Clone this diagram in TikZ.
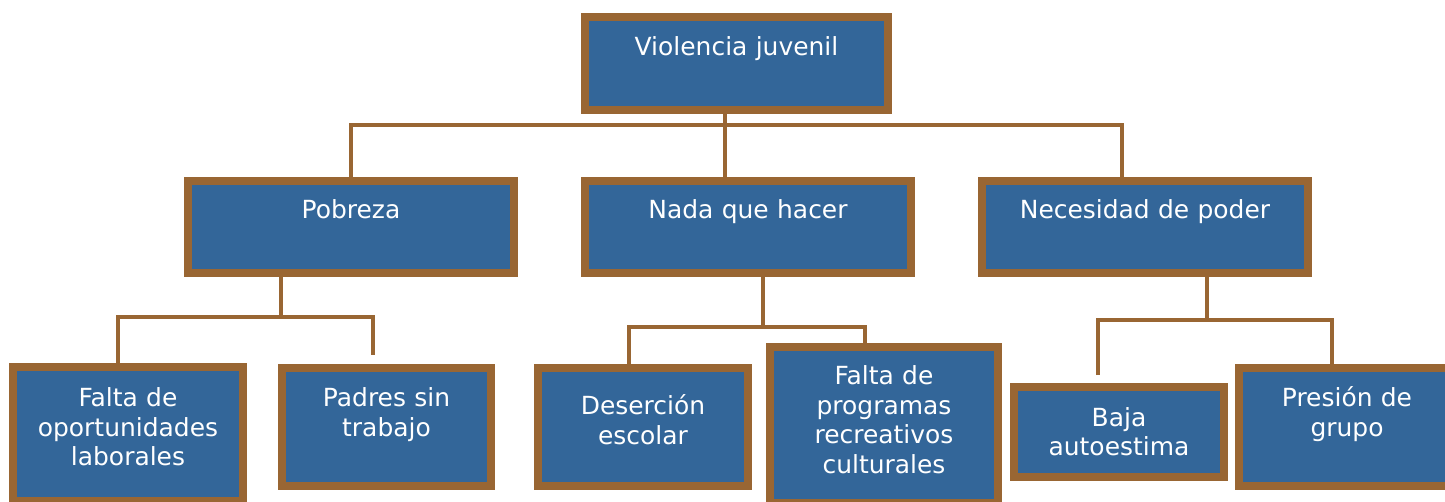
\documentclass[tikz,border=0pt]{standalone}
\usepackage{fontspec}
\setmainfont{DejaVu Sans}
\usetikzlibrary{calc}

\definecolor{azul}{HTML}{336699}
\definecolor{cafe}{HTML}{996633}

\begin{document}
\begin{tikzpicture}[x=0.02cm, y=-0.02cm,
    caja/.style={draw=cafe, fill=azul, line width=0.16cm, text=white,
        font=\fontsize{14.2}{17.07}\selectfont, align=center, inner sep=0pt},
    conector/.style={draw=cafe, line width=0.08cm}]
    \useasboundingbox (0,0) rectangle (1445,501);

    % 绘制顶部节点
    \node[caja, text width=6.06cm, text height=0.76cm, text depth=1.10cm] (violencia) at (736.5,63.5) {Violencia juvenil};

    % 绘制第二层节点
    \node[caja, text width=6.52cm, text height=0.74cm, text depth=1.10cm] (pobreza) at (351,227) {Pobreza};
    \node[caja, text width=6.52cm, text height=0.74cm, text depth=1.10cm] (nada) at (748,227) {Nada que hacer};
    \node[caja, text width=6.52cm, text height=0.74cm, text depth=1.10cm] (necesidad) at (1145,227) {Necesidad de poder};

    % 绘制第三层节点
    \node[caja, text width=4.60cm, text height=0.78cm, text depth=1.90cm] (falta) at (128,434) {Falta de\\oportunidades\\laborales};
    \node[caja, text width=4.18cm, text height=0.76cm, text depth=1.60cm] (padres) at (386.5,427) {Padres sin\\trabajo};
    \node[caja, text width=4.20cm, text height=0.92cm, text depth=1.44cm] (desercion) at (643,427) {Deserción\\escolar};
    \node[caja, text width=4.56cm, text height=0.74cm, text depth=2.38cm] (programas) at (884,425) {Falta de\\programas\\recreativos\\culturales};
    \node[caja, text width=4.20cm, text height=0.78cm, text depth=1.02cm] (baja) at (1119,432) {Baja\\autoestima};
    \node[caja, text width=4.32cm, text height=0.76cm, text depth=1.60cm] (presion) at (1347,427) {Presión de\\grupo};

    % 绘制第一层连接线
    \coordinate (b0) at (725,125);
    \draw[conector] (violencia.south -| b0) -- (b0);
    \draw[conector] (pobreza.north) |- (b0) -| ($(necesidad.north)+(-23,0)$);
    \draw[conector] (b0) -- ($(nada.north)+(-23,0)$);

    % 绘制第二层连接线
    \coordinate (b1) at (281,317);
    \draw[conector] (pobreza.south -| b1) -- (b1);
    \draw[conector] ($(falta.north)+(-10,0)$) |- (b1) -| ($(padres.north)+(-14,-9)$);

    \coordinate (b2) at (763,327);
    \draw[conector] (nada.south -| b2) -- (b2);
    \draw[conector] ($(desercion.north)+(-14,0)$) |- (b2) -| ($(programas.north)+(-19,0)$);

    \coordinate (b3) at (1207,320);
    \draw[conector] (necesidad.south -| b3) -- (b3);
    \draw[conector] ($(baja.north)+(-21,-8)$) |- (b3) -| ($(presion.north)+(-15,0)$);

\end{tikzpicture}
\end{document}
